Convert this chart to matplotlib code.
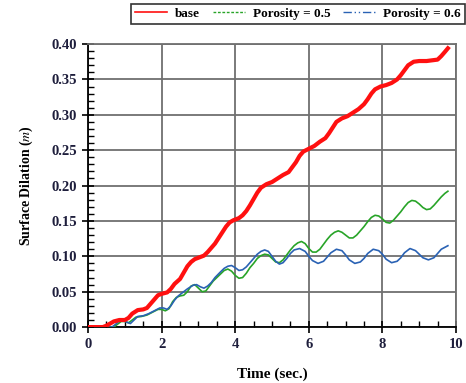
import matplotlib
matplotlib.use('Agg')
import matplotlib.pyplot as plt
from matplotlib.lines import Line2D
from matplotlib.ticker import MultipleLocator

plt.rcParams['font.family'] = ['Liberation Serif', 'DejaVu Serif']
plt.rcParams['mathtext.fontset'] = 'stix'

# base
t_base = [0.0, 0.4, 0.5, 0.6, 0.7, 0.85, 1.0, 1.1, 1.2, 1.35, 1.5, 1.6, 1.7, 1.8, 1.9, 2.0,
          2.15, 2.25, 2.35, 2.5, 2.6, 2.7, 2.8, 2.9, 3.0, 3.15, 3.25, 3.35, 3.45, 3.55, 3.65,
          3.75, 3.85, 3.95, 4.1, 4.2, 4.3, 4.4, 4.5, 4.6, 4.7, 4.85, 5.0, 5.15, 5.3, 5.45,
          5.55, 5.65, 5.75, 5.85, 6.0, 6.15, 6.3, 6.45, 6.55, 6.65, 6.75, 6.9, 7.05, 7.2,
          7.35, 7.5, 7.6, 7.7, 7.8, 7.95, 8.1, 8.25, 8.4, 8.5, 8.6, 8.7, 8.85, 9.0, 9.2,
          9.35, 9.5, 9.6, 9.7, 9.78]
v_base = [0.0, 0.0, 0.002, 0.005, 0.008, 0.010, 0.010, 0.013, 0.019, 0.024, 0.025, 0.027,
          0.033, 0.039, 0.045, 0.047, 0.049, 0.054, 0.061, 0.068, 0.077, 0.086, 0.092, 0.096,
          0.098, 0.101, 0.106, 0.112, 0.118, 0.126, 0.134, 0.142, 0.148, 0.151, 0.154, 0.158,
          0.164, 0.172, 0.181, 0.190, 0.197, 0.202, 0.205, 0.210, 0.215, 0.219, 0.226, 0.233,
          0.242, 0.248, 0.252, 0.256, 0.262, 0.267, 0.274, 0.282, 0.290, 0.295, 0.298, 0.303,
          0.308, 0.315, 0.322, 0.330, 0.336, 0.340, 0.342, 0.345, 0.350, 0.356, 0.363, 0.370,
          0.375, 0.376, 0.376, 0.377, 0.378, 0.383, 0.389, 0.394]

# porosity = 0.5
t_p05 = [0.0, 0.7, 0.8, 0.9, 1.0, 1.1, 1.2, 1.3, 1.45, 1.6, 1.75, 1.9, 2.0, 2.1, 2.2, 2.3,
         2.4, 2.5, 2.6, 2.7, 2.8, 2.9, 3.0, 3.1, 3.2, 3.3, 3.4, 3.5, 3.6, 3.7, 3.8, 3.9, 4.0,
         4.1, 4.2, 4.3, 4.4, 4.5, 4.6, 4.7, 4.8, 4.9, 5.0, 5.1, 5.2, 5.3, 5.4, 5.5, 5.6, 5.7,
         5.8, 5.9, 6.0, 6.1, 6.2, 6.3, 6.4, 6.5, 6.6, 6.7, 6.8, 6.9, 7.0, 7.1, 7.2, 7.3, 7.4,
         7.5, 7.6, 7.7, 7.8, 7.9, 8.0, 8.1, 8.2, 8.3, 8.4, 8.5, 8.6, 8.7, 8.8, 8.9, 9.0, 9.1,
         9.2, 9.3, 9.4, 9.5, 9.6, 9.7, 9.78]
v_p05 = [0.0, 0.0, 0.004, 0.008, 0.008, 0.006, 0.010, 0.014, 0.015, 0.017, 0.021, 0.025,
         0.025, 0.023, 0.026, 0.036, 0.042, 0.044, 0.045, 0.050, 0.058, 0.060, 0.055, 0.050,
         0.051, 0.058, 0.065, 0.070, 0.075, 0.080, 0.082, 0.079, 0.073, 0.069, 0.070, 0.076,
         0.084, 0.090, 0.097, 0.101, 0.103, 0.102, 0.097, 0.092, 0.091, 0.095, 0.102, 0.109,
         0.115, 0.119, 0.121, 0.118, 0.111, 0.106, 0.106, 0.110, 0.117, 0.124, 0.130, 0.134,
         0.136, 0.134, 0.130, 0.126, 0.126, 0.130, 0.136, 0.142, 0.149, 0.155, 0.158, 0.157,
         0.153, 0.148, 0.147, 0.151, 0.157, 0.163, 0.170, 0.176, 0.179, 0.178, 0.174, 0.169,
         0.166, 0.167, 0.172, 0.178, 0.184, 0.189, 0.192]

# porosity = 0.6
t_p06 = [0.0, 0.65, 0.75, 0.85, 0.95, 1.05, 1.15, 1.25, 1.35, 1.5, 1.65, 1.8, 1.95, 2.05,
         2.15, 2.25, 2.35, 2.45, 2.55, 2.7, 2.85, 2.95, 3.05, 3.15, 3.25, 3.35, 3.45, 3.6,
         3.7, 3.8, 3.9, 4.0, 4.1, 4.2, 4.3, 4.4, 4.5, 4.6, 4.7, 4.8, 4.9, 5.0, 5.1, 5.2, 5.3,
         5.4, 5.5, 5.6, 5.75, 5.9, 6.0, 6.1, 6.25, 6.4, 6.5, 6.6, 6.75, 6.9, 7.0, 7.1, 7.25,
         7.4, 7.5, 7.6, 7.75, 7.9, 8.0, 8.1, 8.25, 8.4, 8.5, 8.6, 8.75, 8.9, 9.0, 9.1, 9.25,
         9.4, 9.5, 9.6, 9.78]
v_p06 = [0.0, 0.0, 0.004, 0.009, 0.010, 0.007, 0.005, 0.010, 0.015, 0.016, 0.019, 0.023,
         0.027, 0.027, 0.025, 0.030, 0.038, 0.044, 0.048, 0.054, 0.059, 0.060, 0.057, 0.055,
         0.058, 0.063, 0.070, 0.078, 0.083, 0.086, 0.087, 0.084, 0.080, 0.081, 0.085, 0.091,
         0.097, 0.103, 0.107, 0.109, 0.107, 0.100, 0.093, 0.089, 0.091, 0.097, 0.104, 0.109,
         0.111, 0.107, 0.100, 0.094, 0.090, 0.093, 0.099, 0.105, 0.110, 0.108, 0.102, 0.095,
         0.090, 0.092, 0.097, 0.104, 0.110, 0.108, 0.103, 0.096, 0.091, 0.093, 0.098, 0.105,
         0.111, 0.108, 0.103, 0.098, 0.095, 0.098, 0.104, 0.110, 0.115]

labels = ['base', 'Porosity = 0.5', 'Porosity = 0.6']

red = '#ff1010'
green = '#28a428'
blue = '#2a62b4'
ink = '#1e1e3c'

fig = plt.figure(figsize=(4.66, 3.83), dpi=100)
ax = fig.add_axes([0.189, 0.146, 0.7895, 0.739])

ax.plot(t_p05, v_p05, color=green, lw=1.2, zorder=3)
ax.plot(t_p06, v_p06, color=blue, lw=1.2, zorder=4)
ax.plot(t_base, v_base, color=red, lw=3.0, zorder=5)

ax.set_xlim(0, 10)
ax.set_ylim(0, 0.40)
ax.xaxis.set_major_locator(MultipleLocator(2))
ax.xaxis.set_minor_locator(MultipleLocator(0.5))
ax.yaxis.set_major_locator(MultipleLocator(0.05))
ax.yaxis.set_minor_locator(MultipleLocator(0.01))
ax.yaxis.set_major_formatter(matplotlib.ticker.FormatStrFormatter('%.2f'))
ax.grid(True, which='major', color='#707070', lw=1.3)
ax.set_axisbelow(True)

ax.tick_params(which='major', direction='inout', length=8, width=1.2, colors='black',
               labelcolor=ink, labelsize=10.5, pad=4)
ax.tick_params(which='minor', direction='in', length=4, width=1.0, colors='black')
for lab in ax.get_xticklabels() + ax.get_yticklabels():
    lab.set_fontweight('bold')

for s in ['left', 'bottom']:
    ax.spines[s].set_color('black')
    ax.spines[s].set_linewidth(1.3)
for s in ['top', 'right']:
    ax.spines[s].set_color('#707070')
    ax.spines[s].set_linewidth(1.3)

ax.set_xlabel('Time (sec.)', fontsize=11, fontweight='bold', labelpad=12)
ax.set_ylabel('Surface Dilation ($\\mathit{m}$)', fontsize=10, fontweight='bold', labelpad=12)

handles = [Line2D([], [], color=red, lw=1.2),
           Line2D([], [], color=green, lw=1.0, linestyle=(0, (2, 1.2))),
           Line2D([], [], color=blue, lw=1.0, linestyle=(0, (6, 2, 1, 2, 1, 2)))]
leg = fig.legend(handles, labels, loc='upper right', bbox_to_anchor=(0.997, 0.99),
                 ncol=3, frameon=True, fancybox=False, edgecolor='black',
                 prop={'weight': 'bold', 'size': 9.5}, handlelength=2.4,
                 columnspacing=1.0, handletextpad=0.6, borderpad=0.3, borderaxespad=0.0)
leg.get_frame().set_linewidth(1.2)

fig.savefig('out.png', dpi=100)
